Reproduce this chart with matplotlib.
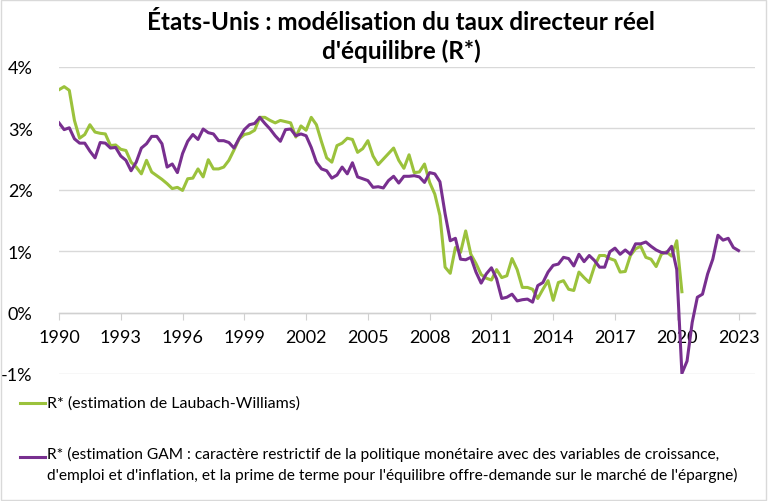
import numpy as np
import matplotlib
matplotlib.use('Agg')
import matplotlib.pyplot as plt
from matplotlib.lines import Line2D
from matplotlib.patches import Rectangle

plt.rcParams['font.family'] = ['Lato', 'DejaVu Sans']

# quarterly values, 1990Q1 onwards (%)
laubach_williams = [
    3.63, 3.68, 3.62, 3.13, 2.84, 2.90, 3.06, 2.94, 2.92, 2.91,
    2.72, 2.73, 2.66, 2.64, 2.45, 2.37, 2.26, 2.48, 2.29, 2.23,
    2.17, 2.10, 2.02, 2.04, 1.99, 2.18, 2.19, 2.34, 2.21, 2.49,
    2.34, 2.34, 2.37, 2.48, 2.65, 2.83, 2.90, 2.92, 2.97, 3.18,
    3.18, 3.13, 3.09, 3.13, 3.11, 3.09, 2.86, 3.04, 2.97, 3.18,
    3.06, 2.78, 2.52, 2.45, 2.72, 2.76, 2.84, 2.82, 2.61, 2.67,
    2.80, 2.55, 2.41, 2.50, 2.59, 2.68, 2.48, 2.35, 2.57, 2.28,
    2.29, 2.42, 2.12, 1.93, 1.58, 0.74, 0.64, 1.06, 0.98, 1.33,
    0.95, 0.80, 0.62, 0.56, 0.53, 0.70, 0.57, 0.60, 0.88, 0.70,
    0.41, 0.41, 0.38, 0.23, 0.38, 0.52, 0.20, 0.49, 0.52, 0.38,
    0.36, 0.66, 0.57, 0.49, 0.75, 0.93, 0.93, 0.88, 0.85, 0.66,
    0.67, 0.93, 1.04, 1.08, 0.90, 0.87, 0.75, 0.95, 0.99, 0.92,
    1.17, 0.34,
]
gam = [
    3.09, 2.98, 3.01, 2.83, 2.76, 2.76, 2.63, 2.52, 2.77, 2.76,
    2.68, 2.69, 2.55, 2.48, 2.31, 2.45, 2.68, 2.75, 2.87, 2.87,
    2.75, 2.37, 2.42, 2.28, 2.59, 2.79, 2.90, 2.82, 2.99, 2.93,
    2.91, 2.80, 2.80, 2.77, 2.68, 2.84, 2.98, 3.06, 3.08, 3.18,
    3.08, 2.99, 2.88, 2.79, 2.98, 2.99, 2.88, 2.91, 2.88, 2.69,
    2.45, 2.34, 2.31, 2.19, 2.24, 2.37, 2.26, 2.44, 2.21, 2.18,
    2.15, 2.04, 2.05, 2.03, 2.15, 2.22, 2.11, 2.22, 2.22, 2.23,
    2.21, 2.12, 2.28, 2.26, 2.13, 1.61, 1.17, 1.21, 0.87, 0.86,
    0.90, 0.66, 0.48, 0.63, 0.73, 0.55, 0.23, 0.25, 0.30, 0.19,
    0.21, 0.22, 0.17, 0.44, 0.49, 0.66, 0.77, 0.79, 0.90, 0.88,
    0.76, 0.95, 0.83, 0.93, 0.85, 0.74, 0.74, 0.99, 1.05, 0.95,
    1.02, 0.95, 1.12, 1.12, 1.15, 1.08, 1.02, 0.98, 0.97, 1.08,
    0.70, -0.99, -0.79, -0.16, 0.25, 0.30, 0.63, 0.87, 1.26, 1.18,
    1.21, 1.06, 1.01,
]
year_ticks = list(range(1990, 2024, 3))
y_ticks = [-1, 0, 1, 2, 3, 4]

label_lw = 'R* (estimation de Laubach-Williams)'
label_gam = ("R* (estimation GAM : caractère restrictif de la politique monétaire avec des variables de croissance,\n"
             "d'emploi et d'inflation, et la prime de terme pour l'équilibre offre-demande sur le marché de l'épargne)")

GREEN = '#9BC23C'
PURPLE = '#782F8F'

t_lw = 1990 + np.arange(len(laubach_williams)) / 4
t_gam = 1990 + np.arange(len(gam)) / 4

fig = plt.figure(figsize=(7.68, 5.02), dpi=100)
ax = fig.add_axes([59 / 768, 1 - 375 / 502, (755 - 59) / 768, (375 - 68) / 502])

ax.plot(t_lw, laubach_williams, color=GREEN, lw=2.2, solid_joinstyle='round', zorder=3)
ax.plot(t_gam, gam, color=PURPLE, lw=2.2, solid_joinstyle='round', zorder=4)

ax.set_xlim(1990, 2023.8)
ax.set_ylim(-1, 4)
ax.set_yticks(y_ticks)
ax.set_yticklabels([f'{v}%' for v in y_ticks], fontsize=13)
ax.tick_params(axis='y', length=0, pad=19)
ax.grid(axis='y', color='#D9D9D9', lw=1)
ax.set_axisbelow(True)

for s in ['top', 'right', 'left']:
    ax.spines[s].set_visible(False)
ax.spines['bottom'].set_position(('data', 0))
ax.spines['bottom'].set_color('#D0D0D0')
ax.spines['bottom'].set_linewidth(1)
ax.set_xticks(year_ticks)
ax.set_xticklabels([str(y) for y in year_ticks], fontsize=13)
ax.tick_params(axis='x', length=5, color='#D0D0D0', pad=7)

fig.text(401 / 768, 1 - 37 / 502, "États-Unis : modélisation du taux directeur réel\nd'équilibre (R*)",
         ha='center', va='center', fontsize=17.5, fontweight='bold', linespacing=1.3)

# legend
fig.add_artist(Line2D([20 / 768, 45 / 768], [1 - 404 / 502] * 2, color=GREEN, lw=2.2))
fig.text(47 / 768, 1 - 404 / 502, label_lw, ha='left', va='center', fontsize=11.5)
fig.add_artist(Line2D([20 / 768, 45 / 768], [1 - 458 / 502] * 2, color=PURPLE, lw=2.2))
fig.text(47 / 768, 1 - 447 / 502, label_gam, ha='left', va='top', fontsize=11.2, linespacing=1.5)

fig.add_artist(Rectangle((0.001, 0.001), 0.997, 0.997, transform=fig.transFigure,
                         fill=False, edgecolor='#D9D9D9', lw=1))

fig.savefig('out.png', dpi=100)
